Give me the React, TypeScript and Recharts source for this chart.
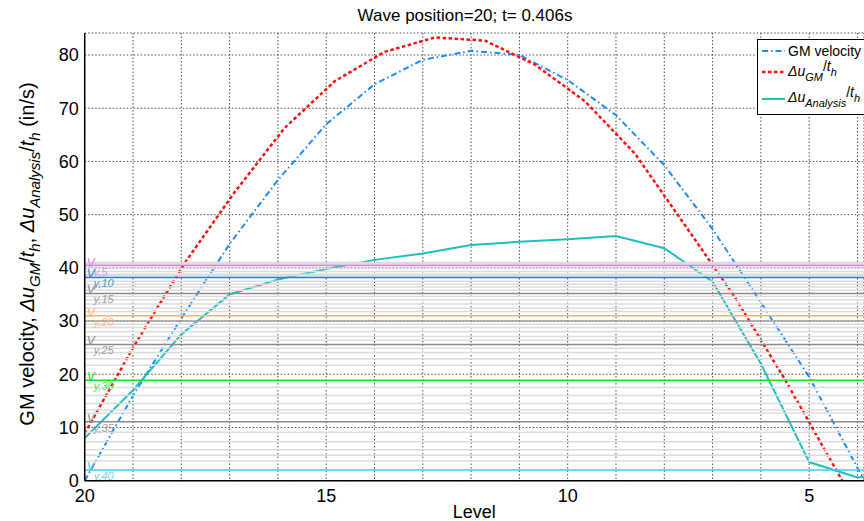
import React from "react";
import {
  LineChart,
  Line,
  XAxis,
  YAxis,
  CartesianGrid,
  ReferenceLine,
} from "recharts";

const FONT = "'Liberation Sans', Arial, Helvetica, sans-serif";

const levels = [20, 19, 18, 17, 16, 15, 14, 13, 12, 11, 10, 9, 8, 7, 6, 5, 4, 3];
const gmVelocity = [0, 16, 30.5, 44.5, 56.5, 67, 74.5, 79.1, 80.8, 80.0, 75.3, 68.7, 59.3, 47.3, 33.5, 19.5, 2.4, -12.6];
const duAnalysis = [8, 17, 27.5, 35, 37.8, 39.8, 41.5, 42.7, 44.3, 44.9, 45.4, 46, 43.7, 37.4, 22, 3.5, 0.6, 1.5];

// the GM-increment curve is sampled at its own positions
const duGmLevels = [20, 18.96, 17.93, 16.89, 15.86, 14.82, 13.79, 12.75, 11.71, 10.68, 9.64, 8.61, 7.57, 6.54, 5.5, 4.46, 3.43];
const duGm = [8.9, 25.6, 40.9, 54.3, 66.3, 75.1, 80.6, 83.3, 82.7, 78.2, 71.3, 61.5, 48, 34.5, 19, 2.3, -14];

// story drift limit lines V_y,i (every 5th one labelled)
const vyValues = [
  41.0, 40.8, 40.7, 40.6, 40.44, 39.9, 39.3, 38.8, 38.5, 38.2,
  37.5, 36.9, 36.4, 35.8, 35.2, 34.6, 34.0, 33.2, 32.4, 31.0,
  31.8, 30.0, 29.4, 28.8, 25.6, 28.0, 27.1, 26.4, 24.9, 18.9,
  24.1, 22.9, 21.7, 17.5, 11.1, 16.0, 14.5, 13.3, 12.7, 2.0,
];
const vyColors: Record<number, string> = {
  5: "#e27ee2",
  10: "#2a7fc9",
  15: "#8a8a8a",
  20: "#ffb36b",
  25: "#8a8a8a",
  30: "#22e022",
  35: "#8a8a8a",
  40: "#45c8f2",
};
const extraVy = [9.1, 7.3, 5.8, 4.8, 3.7];

const xTicks = [20, 19, 18, 17, 16, 15, 14, 13, 12, 11, 10, 9, 8, 7, 6, 5, 4];
const yTicks = [0, 10, 20, 30, 40, 50, 60, 70, 80];

const data = levels.map((level, i) => ({
  level,
  gm: gmVelocity[i],
  duAn: duAnalysis[i],
}));
const duGmData = duGmLevels.map((level, i) => ({ level, duGm: duGm[i] }));

const VyLabel = ({ viewBox, idx, color }: any) => {
  const x = viewBox.x + 2;
  const y = viewBox.y;
  return (
    <text fontFamily={FONT} fontStyle="italic" fill={color}>
      <tspan x={x} y={y + 1} fontSize={12}>
        V
      </tspan>
      <tspan x={x + 7} y={y + 10} fontSize={11} opacity={0.8}>
        {`y,${idx}`}
      </tspan>
    </text>
  );
};

const YLabel = () => (
  <text
    transform="translate(34, 254) rotate(-90)"
    textAnchor="middle"
    fontFamily={FONT}
    fontSize={20}
    fill="#000"
  >
    <tspan>GM velocity, </tspan>
    <tspan fontStyle="italic">Δu</tspan>
    <tspan fontStyle="italic" fontSize={15} dy={6}>GM</tspan>
    <tspan dy={-6}>/</tspan>
    <tspan fontStyle="italic">t</tspan>
    <tspan fontStyle="italic" fontSize={15} dy={6}>h</tspan>
    <tspan dy={-6}>, </tspan>
    <tspan fontStyle="italic">Δu</tspan>
    <tspan fontStyle="italic" fontSize={15} dy={6}>Analysis</tspan>
    <tspan dy={-6}>/</tspan>
    <tspan fontStyle="italic">t</tspan>
    <tspan fontStyle="italic" fontSize={15} dy={6}>h</tspan>
    <tspan dy={-6}>{"   (in/s)"}</tspan>
  </text>
);

export default function App() {
  return (
    <div
      style={{
        position: "absolute",
        left: 0,
        top: 0,
        width: 864,
        height: 521,
        background: "#fff",
        fontFamily: FONT,
        overflow: "hidden",
      }}
    >
      <div
        style={{
          position: "absolute",
          top: 6,
          left: 465,
          transform: "translateX(-50%)",
          fontSize: 17,
          whiteSpace: "nowrap",
        }}
      >
        Wave position=20; t= 0.406s
      </div>

      <LineChart
        width={864}
        height={521}
        data={data}
        margin={{ top: 33, right: 0, bottom: 0, left: 0 }}
      >
        <CartesianGrid stroke="#222" strokeDasharray="1.5 2" strokeWidth={0.8} />
        <XAxis
          dataKey="level"
          type="number"
          domain={[3.865, 20]}
          reversed
          allowDataOverflow
          ticks={xTicks}
          interval={0}
          tickFormatter={(v) => (v % 5 === 0 ? String(v) : "")}
          height={40.3}
          tickSize={8}
          tickMargin={1}
          tickLine={false}
          axisLine={{ stroke: "#000", strokeWidth: 1.5 }}
          tick={{ fill: "#000", fontSize: 18, fontFamily: FONT }}
          label={{
            value: "Level",
            position: "insideBottom",
            offset: 3,
            fill: "#000",
            fontSize: 18,
            fontFamily: FONT,
          }}
        />
        <YAxis
          type="number"
          domain={[0, 84.14]}
          allowDataOverflow
          ticks={yTicks}
          interval={0}
          width={84.7}
          tickSize={4}
          tickMargin={2}
          tickLine={false}
          axisLine={{ stroke: "#000", strokeWidth: 1.5 }}
          tick={{ fill: "#000", fontSize: 18, fontFamily: FONT }}
          label={<YLabel />}
        />

        <Line
          dataKey="gm"
          stroke="#1a8cff"
          strokeWidth={2}
          strokeDasharray="6 3 1.5 3"
          dot={false}
          isAnimationActive={false}
        />
        <Line
          data={duGmData}
          dataKey="duGm"
          stroke="#ff1010"
          strokeWidth={2.5}
          strokeDasharray="3.5 2.5"
          dot={false}
          isAnimationActive={false}
        />
        <Line
          dataKey="duAn"
          stroke="#1fbfbf"
          strokeWidth={2}
          dot={false}
          isAnimationActive={false}
        />

        {extraVy.map((v, i) => (
          <ReferenceLine key={"e" + i} y={v} stroke="#dcdcdc" strokeWidth={1.5} />
        ))}
        {vyValues.map((v, i) => {
          const idx = i + 1;
          const c = vyColors[idx];
          if (c) return null;
          return (
            <ReferenceLine
              key={"g" + idx}
              y={v}
              stroke={idx === 22 ? "#a0a0a0" : "#dcdcdc"}
              strokeWidth={1.5}
            />
          );
        })}
        {vyValues.map((v, i) => {
          const idx = i + 1;
          const c = vyColors[idx];
          if (!c) return null;
          return (
            <ReferenceLine
              key={"c" + idx}
              y={v}
              stroke={c}
              strokeWidth={1.5}
              label={<VyLabel idx={idx} color={c} />}
            />
          );
        })}
      </LineChart>

      <div
        style={{
          position: "absolute",
          left: 757,
          top: 39,
          width: 120,
          height: 74,
          border: "1px solid #000",
          background: "#fff",
        }}
      >
        <svg width={120} height={74} style={{ position: "absolute", left: 0, top: 0 }}>
          <line x1={4} y1={11} x2={27} y2={11} stroke="#1a8cff" strokeWidth={2} strokeDasharray="6 3 1.5 3" />
          <line x1={4} y1={32} x2={27} y2={32} stroke="#ff1010" strokeWidth={2.5} strokeDasharray="3.5 2.5" />
          <line x1={4} y1={59} x2={27} y2={59} stroke="#1fbfbf" strokeWidth={2} />
          <text fontFamily={FONT} fontSize={14} fill="#000">
            <tspan x={30} y={16}>GM velocity</tspan>
          </text>
          <text fontFamily={FONT} fontSize={14} fill="#000" x={30} y={36}>
            <tspan fontStyle="italic">Δu</tspan>
            <tspan fontStyle="italic" fontSize={11} dy={5}>GM</tspan>
            <tspan dy={-10}>/</tspan>
            <tspan fontStyle="italic">t</tspan>
            <tspan fontStyle="italic" fontSize={11} dy={5}>h</tspan>
          </text>
          <text fontFamily={FONT} fontSize={14} fill="#000" x={30} y={62}>
            <tspan fontStyle="italic">Δu</tspan>
            <tspan fontStyle="italic" fontSize={11} dy={5}>Analysis</tspan>
            <tspan dy={-10}>/</tspan>
            <tspan fontStyle="italic">t</tspan>
            <tspan fontStyle="italic" fontSize={11} dy={5}>h</tspan>
          </text>
        </svg>
      </div>
    </div>
  );
}
